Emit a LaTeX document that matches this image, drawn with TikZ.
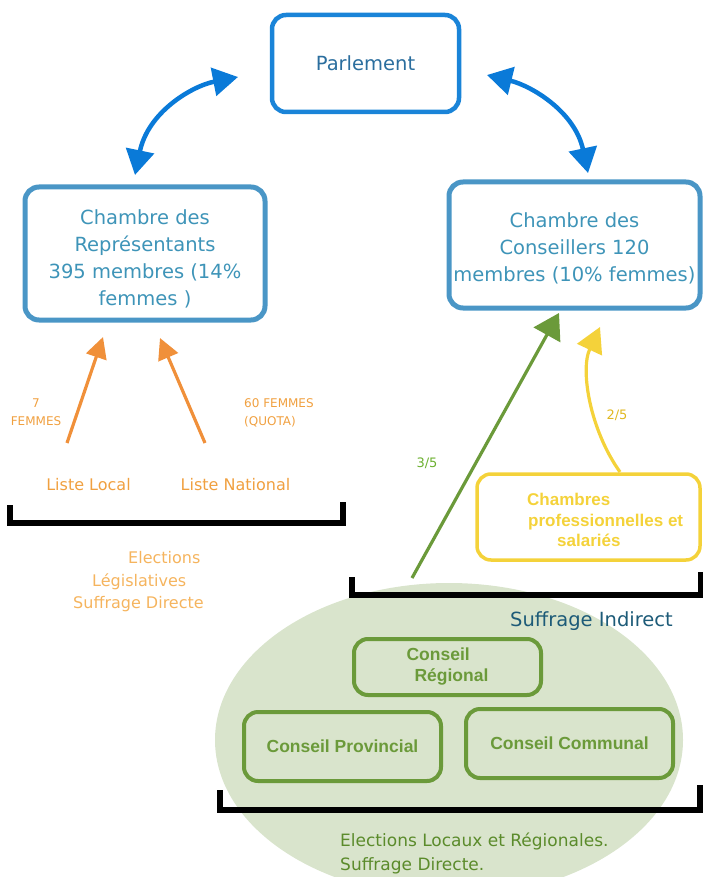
\documentclass[tikz,border=0pt]{standalone}
\usepackage{fontspec}
\setmainfont{DejaVu Sans}
\newfontfamily\arialfont{Liberation Sans}
\usetikzlibrary{arrows.meta,shapes.geometric}
\definecolor{bluearrow}{RGB}{10,122,216}
\definecolor{parlbox}{RGB}{26,132,216}
\definecolor{parltext}{RGB}{43,110,158}
\definecolor{chambox}{RGB}{74,150,198}
\definecolor{chamtext}{RGB}{62,148,184}
\definecolor{orarrow}{RGB}{240,144,58}
\definecolor{ortext}{RGB}{240,160,64}
\definecolor{ortextlight}{RGB}{245,180,94}
\definecolor{grn}{RGB}{107,154,58}
\definecolor{grntext}{RGB}{91,139,43}
\definecolor{grnlabel}{RGB}{108,176,48}
\definecolor{ylw}{RGB}{244,210,58}
\definecolor{ylwlabel}{RGB}{224,184,32}
\definecolor{sage}{RGB}{217,228,204}
\definecolor{indirect}{RGB}{29,91,120}
\begin{document}
\begin{tikzpicture}[x=1pt,y=-1pt,
  roundbox/.style={draw, rounded corners=14pt, inner sep=0pt, align=center},
  bluebox/.style={roundbox, draw=chambox, line width=5pt, text=chamtext,
    font=\fontsize{19.5}{27}\selectfont},
  conseilbox/.style={roundbox, draw=grn, line width=4pt, text=grn,
    font=\arialfont\bfseries\fontsize{17.5}{21}\selectfont},
  bracket/.style={draw=black, line width=5.5pt},
  bluelink/.style={draw=bluearrow, line width=4.5pt,
    {Triangle[length=25pt,width=28pt]}-{Triangle[length=25pt,width=28pt]}},
  orlink/.style={draw=orarrow, line width=3.2pt, -{Triangle[length=21pt,width=21pt]}},
  smalllabel/.style={text=ortext, font=\fontsize{12}{18}\selectfont, align=center, inner sep=0pt}
]
\useasboundingbox (0,0) rectangle (703,877);
\clip (0,0) rectangle (703,877);

% green zone
\node[ellipse, fill=sage, minimum width=468pt, minimum height=314pt, inner sep=0pt] (zone) at (449,740) {};

% top boxes
\node[roundbox, draw=parlbox, line width=4.5pt, text=parltext, minimum width=187pt, minimum height=97pt,
  font=\fontsize{19.5}{27}\selectfont] (parl) at (365.5,63.5) {Parlement};
\node[bluebox, minimum width=240pt, minimum height=133pt] (rep) at (145,253.5)
  {\raisebox{-6pt}[\height][\depth]{\begin{tabular}{@{}c@{}}Chambre des\\Représentants\\395 membres (14\%\\femmes )\end{tabular}}};
\node[bluebox, minimum width=251pt, minimum height=126pt] (cons) at (574.5,245)
  {\raisebox{-4pt}[\height][\depth]{\begin{tabular}{@{}c@{}}Chambre des\\Conseillers 120\\membres (10\% femmes)\end{tabular}}};

% blue double arrows
\coordinate (repT) at (135,175);
\coordinate (parlL) at (238,77);
\coordinate (parlR) at (487,75);
\coordinate (consT) at (588,173);
\draw[bluelink] (repT) .. controls (148,112) and (192,86) .. (parlL);
\draw[bluelink] (parlR) .. controls (532,86) and (575,112) .. (consT);

% left side
\node[text=ortext, font=\fontsize{16}{20}\selectfont, inner sep=0pt] (local) at (88.5,485) {Liste Local};
\node[text=ortext, font=\fontsize{16}{20}\selectfont, inner sep=0pt] (national) at (235.5,485) {Liste National};
\coordinate (localT) at (67,443);
\coordinate (natT) at (205,443);
\coordinate (repA) at (103,337);
\coordinate (repB) at (160,338);
\draw[orlink] (localT) -- (repA);
\draw[orlink] (natT) -- (repB);
\node[smalllabel] (sept) at (36,412) {7\\FEMMES};
\node[smalllabel, align=left, anchor=west] (soix) at (244,413) {60 FEMMES\\(QUOTA)};

\draw[bracket] (10,505) -- (10,523) -- (343,523) -- (343,502);

\node[text=ortextlight, font=\fontsize{16}{22.5}\selectfont, align=left, anchor=west, inner sep=0pt] (elec) at (73,582)
  {\hspace{55pt}Elections\\\hspace{19pt}Législatives\\Suffrage Directe};

% right side
\node[roundbox, draw=ylw, line width=3.5pt, minimum width=223pt, minimum height=86pt] (chp) at (588.5,517) {};
\node[text=ylw, font=\arialfont\bfseries\fontsize{17}{20.5}\selectfont, align=left, anchor=west, inner sep=0pt] (chptxt) at (527,520)
  {Chambres\\\hspace{1pt}professionnelles et\\\hspace{30pt}salariés};

\coordinate (chpT) at (620,472);
\coordinate (consY) at (600,327);
\draw[draw=ylw, line width=3.2pt, -{Triangle[length=25pt,width=27pt]}] (chpT) .. controls (590,430) and (580,370) .. (consY);

\coordinate (zoneT) at (412,578);
\coordinate (consG) at (559,313);
\draw[draw=grn, line width=3.2pt, -{Triangle[length=25pt,width=30pt]}] (zoneT) -- (consG);

\node[text=grnlabel, font=\fontsize{13}{14}\selectfont, inner sep=0pt] (tf) at (427,463) {3/5};
\node[text=ylwlabel, font=\fontsize{13}{14}\selectfont, inner sep=0pt] (df) at (617,415) {2/5};

\draw[bracket] (352,577) -- (352,595) -- (701,595) -- (701,572);

\node[text=indirect, font=\fontsize{19.5}{22}\selectfont, inner sep=0pt, anchor=west] (indir) at (510,621) {Suffrage Indirect};

% conseils
\node[conseilbox, minimum width=187pt, minimum height=56pt] (reg) at (447.5,667)
  {\begin{tabular}{@{}l@{}}Conseil\\\hspace{8pt}Régional\end{tabular}};
\node[conseilbox, minimum width=197pt, minimum height=69pt] (prov) at (342.5,746.5) {Conseil Provincial};
\node[conseilbox, minimum width=207pt, minimum height=69pt] (comm) at (569.5,743.5) {Conseil Communal};

\draw[bracket] (220,790) -- (220,810) -- (700,810) -- (700,785);

\node[text=grntext, font=\fontsize{17}{24}\selectfont, align=left, anchor=north west, inner sep=0pt] (loc) at (340,833)
  {Elections Locaux et Régionales.\\Suffrage Directe.};
\end{tikzpicture}
\end{document}
